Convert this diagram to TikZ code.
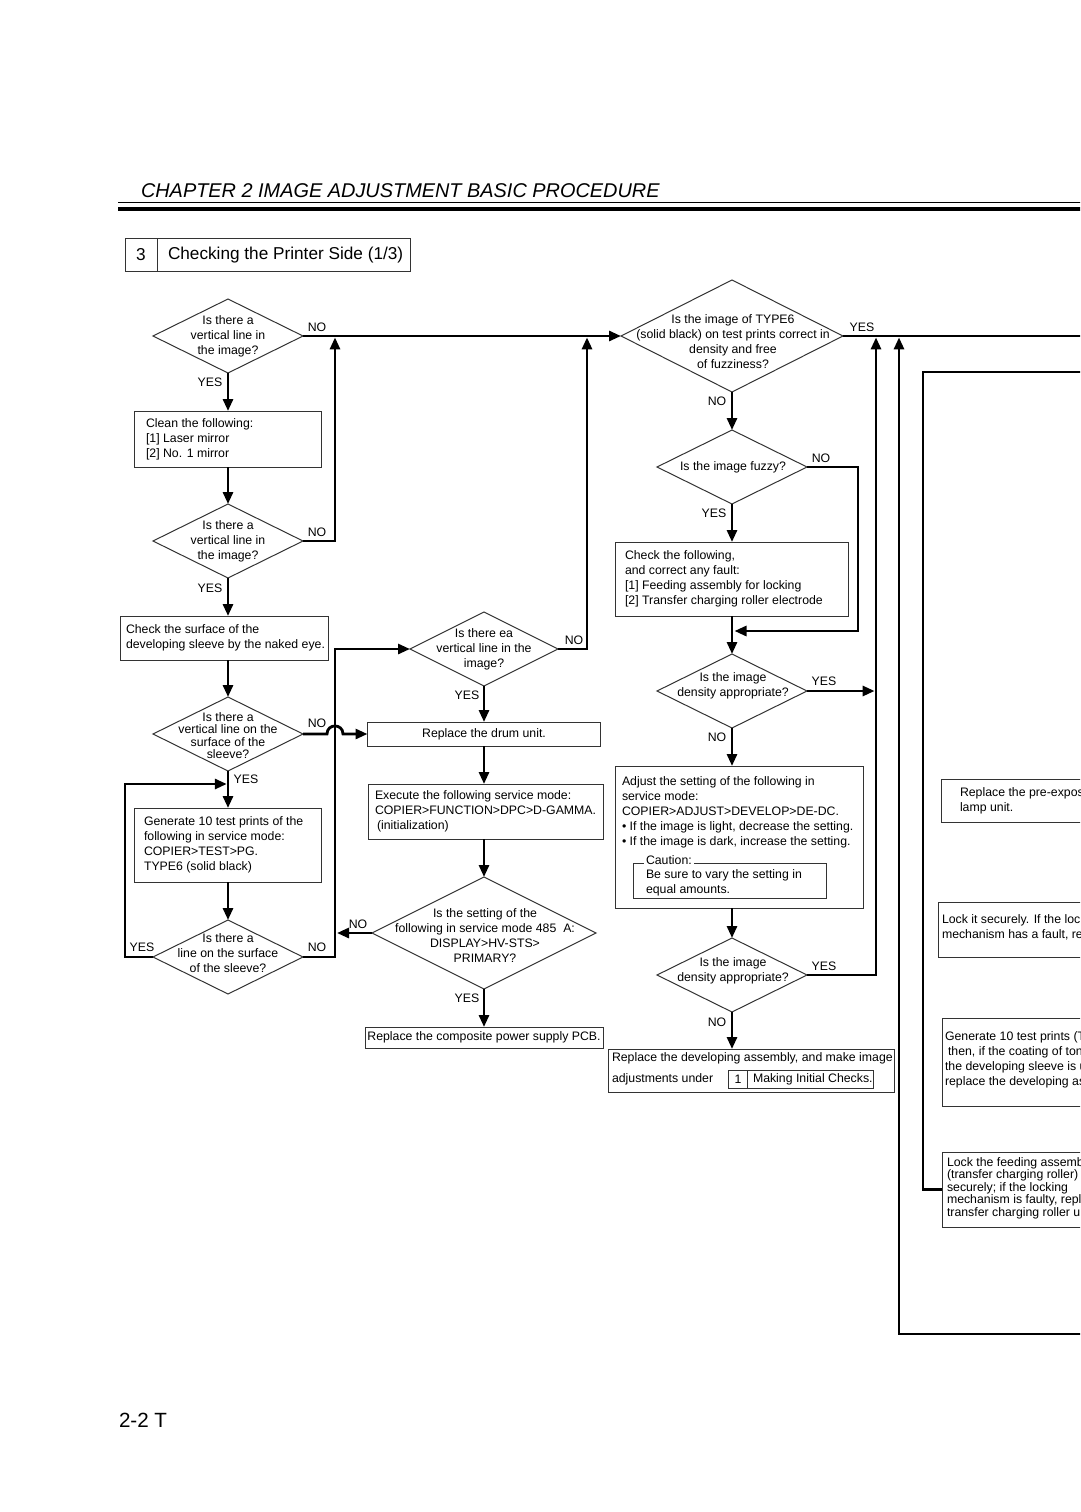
\documentclass[tikz,border=0pt]{standalone}
\usepackage{fontspec}
\setmainfont{Liberation Sans}
\usetikzlibrary{shapes.geometric,arrows.meta,calc}
\begin{document}
\begin{tikzpicture}[x=1pt,y=-1pt,
  every node/.style={font=\fontsize{12.3}{15}\selectfont, inner sep=0pt, outer sep=0pt},
  conn/.style={line width=2.8pt, -{Triangle[length=12pt,width=10pt]}},
  wire/.style={line width=2.8pt},
  box/.style={draw=black!80, line width=1pt, rectangle, inner sep=0pt},
  dia/.style={diamond, draw=black!80, line width=1pt, inner sep=0pt},
  txt/.style={align=left, anchor=west},
  ctxt/.style={align=center},
  yn/.style={}]
\useasboundingbox (0,0) rectangle (1080,1512);
\fill[white] (0,0) rectangle (1080,1512);
\clip (0,0) rectangle (1080,1512);

% header
\node[anchor=base west, font=\fontsize{19.9}{24}\selectfont\itshape] (title) at (141,197) {CHAPTER 2 IMAGE ADJUSTMENT BASIC PROCEDURE};
\draw[line width=1.3pt] (118,202.5) -- (1085,202.5);
\draw[line width=4.3pt] (118,209) -- (1085,209);

% section box
\node[box, minimum width=285pt, minimum height=33pt] (sec) at (267.5,254.5) {};
\draw[black!80, line width=1pt] (157.5,238) -- (157.5,271);
\node[font=\fontsize{17.2}{20}\selectfont] (secn) at (141,255) {3};
\node[anchor=west, font=\fontsize{17.2}{20}\selectfont] (sect) at (168,255) {Checking the Printer Side (1/3)};

% ---------- left column ----------
\node[dia, minimum width=150pt, minimum height=74pt] (d1) at (228,336) {};
\node[ctxt] (d1t) at (228,336) {Is there a\\vertical line in\\the image?};
\node[box, minimum width=187pt, minimum height=56pt] (b1) at (228,439) {};
\node[txt] (b1t) at (146,439) {Clean the following:\\{[1]} Laser mirror\\{[2]} No. 1 mirror};
\node[dia, minimum width=150pt, minimum height=74pt] (d2) at (228,541) {};
\node[ctxt] (d2t) at (228,541) {Is there a\\vertical line in\\the image?};
\node[box, minimum width=208pt, minimum height=44pt] (b2) at (224,638) {};
\node[txt] (b2t) at (126,638) {Check the surface of the\\developing sleeve by the naked eye.};
\node[dia, minimum width=150pt, minimum height=74pt] (d3) at (228,734) {};
\node[ctxt, font=\fontsize{12.3}{12.4}\selectfont] (d3t) at (228,735.5) {Is there a\\vertical line on the\\surface of the\\sleeve?};
\node[box, minimum width=187pt, minimum height=74pt] (b3) at (228,845) {};
\node[txt] (b3t) at (144,845) {Generate 10 test prints of the\\following in service mode:\\COPIER>TEST>PG.\\TYPE6 (solid black)};
\node[dia, minimum width=150pt, minimum height=74pt] (d5) at (228,957) {};
\node[ctxt] (d5t) at (228,953) {Is there a\\line on the surface\\of the sleeve?};

% ---------- middle column ----------
\node[dia, minimum width=148pt, minimum height=74pt] (dea) at (484,649) {};
\node[ctxt] (deat) at (484,649) {Is there ea\\vertical line in the\\image?};
\node[box, minimum width=233pt, minimum height=24pt] (drum) at (484,734) {Replace the drum unit.};
\node[box, minimum width=235pt, minimum height=55pt] (exec) at (485.5,811.5) {};
\node[txt] (exect) at (375,811.5) {Execute the following service mode:\\COPIER>FUNCTION>DPC>D-GAMMA.\\\hspace{2pt}(initialization)};
\node[dia, minimum width=224pt, minimum height=112pt] (d6) at (484,933) {};
\node[ctxt] (d6t) at (485,936) {Is the setting of the\\following in service mode 485\ \ A:\\DISPLAY>HV-STS>\\PRIMARY?};
\node[box, minimum width=238pt, minimum height=21pt] (psu) at (484,1037.5) {Replace the composite power supply PCB.};

% ---------- right column ----------
\node[dia, minimum width=222pt, minimum height=112pt] (d7) at (732,336) {};
\node[ctxt] (d7t) at (733,342) {Is the image of TYPE6\\(solid black) on test prints correct in\\density and free\\of fuzziness?};
\node[dia, minimum width=150pt, minimum height=74pt] (d8) at (732,467) {};
\node[ctxt] (d8t) at (733,467) {Is the image fuzzy?};
\node[box, minimum width=233pt, minimum height=74pt] (check) at (731.5,579) {};
\node[txt] (checkt) at (625,579) {Check the following,\\and correct any fault:\\{[1]} Feeding assembly for locking\\{[2]} Transfer charging roller electrode};
\node[dia, minimum width=150pt, minimum height=74pt] (d9) at (732,691) {};
\node[ctxt] (d9t) at (733,685.5) {Is the image\\density appropriate?};
\node[box, minimum width=248pt, minimum height=142pt] (adj) at (739,837) {};
\node[txt] (adjt) at (622,812) {Adjust the setting of the following in\\service mode:\\COPIER>ADJUST>DEVELOP>DE-DC.\\\textbullet{} If the image is light, decrease the setting.\\\textbullet{} If the image is dark, increase the setting.};
\node[box, minimum width=193pt, minimum height=35pt] (caut) at (729.5,880.5) {};
\node[anchor=west, fill=white, inner xsep=2pt, inner ysep=1pt] (cautl) at (644,860) {Caution:};
\node[txt] (cautt) at (646,882.5) {Be sure to vary the setting in\\equal amounts.};
\node[dia, minimum width=150pt, minimum height=74pt] (d10) at (732,975) {};
\node[ctxt] (d10t) at (733,970.5) {Is the image\\density appropriate?};
\node[box, minimum width=286pt, minimum height=43pt] (repl) at (751,1070.5) {};
\node[txt] (replt1) at (612,1058) {Replace the developing assembly, and make image};
\node[txt] (replt2) at (612,1079) {adjustments under};
\node[box, minimum width=145pt, minimum height=18pt] (small) at (800.5,1079) {};
\draw[black!80, line width=1pt] (747,1070) -- (747,1088);
\node (smalln) at (738,1079) {1};
\node[txt] (smallt) at (753,1079) {Making Initial Checks.};

% ---------- far right boxes ----------
\node[box, minimum width=159pt, minimum height=43pt] (r1) at (1020.5,800.5) {};
\node[txt] (r1t) at (960,800.5) {Replace the pre-expos\\lamp unit.};
\node[box, minimum width=162pt, minimum height=55pt] (r2) at (1019,929.5) {};
\node[txt] (r2t) at (942,927.5) {Lock it securely. If the lock\\mechanism has a fault, re};
\node[box, minimum width=158pt, minimum height=88pt] (r3) at (1021,1062) {};
\node[txt] (r3t) at (945,1059.5) {Generate 10 test prints (T\\\hspace{3pt}then, if the coating of ton\\the developing sleeve is u\\replace the developing as};
\node[box, minimum width=158pt, minimum height=75pt] (r4) at (1021,1189.5) {};
\node[txt, font=\fontsize{12.3}{12.5}\selectfont] (r4t) at (947,1188) {Lock the feeding assemb\\(transfer charging roller)\\securely; if the locking\\mechanism is faulty, repl\\transfer charging roller u};

% ---------- YES / NO labels ----------
\node[yn] (l1n) at (317,327) {NO};
\node[yn] (l1y) at (210,382) {YES};
\node[yn] (l2n) at (317,532) {NO};
\node[yn] (l2y) at (210,588) {YES};
\node[yn] (l3n) at (317,723) {NO};
\node[yn] (l3y) at (246,779) {YES};
\node[yn] (l5y) at (142,947) {YES};
\node[yn] (l5n) at (317,947) {NO};
\node[yn] (l6n) at (358,924) {NO};
\node[yn] (l6y) at (467,998) {YES};
\node[yn] (lean) at (574,640) {NO};
\node[yn] (leay) at (467,695) {YES};
\node[yn] (l7y) at (862,327) {YES};
\node[yn] (l7n) at (717,401) {NO};
\node[yn] (l8n) at (821,458) {NO};
\node[yn] (l8y) at (714,513) {YES};
\node[yn] (l9y) at (824,681) {YES};
\node[yn] (l9n) at (717,737) {NO};
\node[yn] (l10y) at (824,966) {YES};
\node[yn] (l10n) at (717,1022) {NO};

% ---------- junction coordinates ----------
\coordinate (j1) at (335,337.4);
\coordinate (j2) at (226.8,784);
\coordinate (j3) at (337,933);
\coordinate (j4) at (587,337.4);
\coordinate (j5) at (734.5,631);
\coordinate (j6) at (874.6,691);
\coordinate (j7) at (876,337.4);
\coordinate (j8) at (899,337.4);
\coordinate (e1) at (1085,336);
\coordinate (e2) at (1085,1334);
\coordinate (e3) at (1085,372);

% ---------- connectors ----------
\draw[conn] (d1.east) -- (d7.west);
\draw[conn] (d1.south) -- (d1.south |- b1.north);
\draw[conn] (b1.south) -- (d2.north);
\draw[conn] (d2.east) -| (j1);
\draw[conn] (d2.south) -- (d2.south |- b2.north);
\draw[conn] (b2.south -| d3.north) -- (d3.north);
\draw[conn] (d3.east) -- (327,734) .. controls (327,723.3) and (343,723.3) .. (343,734) -- (drum.west);
\draw[conn] (d3.south) -- (d3.south |- b3.north);
\draw[conn] (b3.south) -- (d5.north);
\draw[conn] (d5.west) -- ++(-28,0) |- (j2);
\draw[conn] (d5.east) -- (335,957) |- (dea.west);
\draw[conn] (d6.west) -- (j3);
\draw[conn] (dea.east) -| (j4);
\draw[conn] (dea.south) -- (drum.north);
\draw[conn] (drum.south) -- (drum.south |- exec.north);
\draw[conn] (exec.south -| d6.north) -- (d6.north);
\draw[conn] (d6.south) -- (psu.north);
\draw[wire] (d7.east) -- (e1);
\draw[conn] (d7.south) -- (d8.north);
\draw[conn] (d8.east) -- (858,467) |- (j5);
\draw[conn] (d8.south) -- (d8.south |- check.north);
\draw[conn] (check.south -| d9.north) -- (d9.north);
\draw[conn] (d9.east) -- (j6);
\draw[conn] (d9.south) -- (d9.south |- adj.north);
\draw[conn] (adj.south -| d10.north) -- (d10.north);
\draw[conn] (d10.east) -| (j7);
\draw[conn] (d10.south) -- (d10.south |- repl.north);
\draw[conn] (e2) -| (j8);
\draw[wire] (e3) -- (923,372) |- (r4.west);

% page number
\node[anchor=base west, font=\fontsize{20.6}{24}\selectfont] (pageno) at (119,1427) {2-2 T};
\end{tikzpicture}
\end{document}
